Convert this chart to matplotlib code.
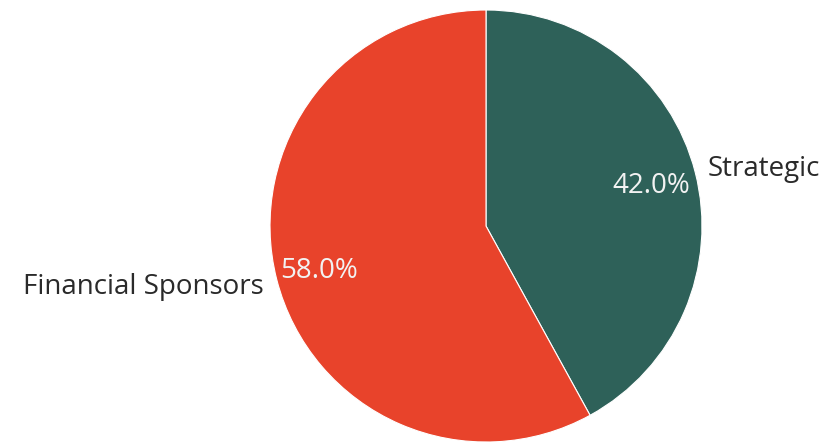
import matplotlib
matplotlib.use('Agg')
import matplotlib.pyplot as plt
import numpy as np

labels = ['Strategic', 'Financial Sponsors']
shares = [42.0, 58.0]
colors = ['#2e6159', '#e8432b']
pct_dist = [0.79, 0.80]
label_shift = [0.0, -0.02]

plt.rcParams['font.family'] = ['Open Sans', 'DejaVu Sans']

fig = plt.figure(figsize=(8.33, 4.43), dpi=100)
ax = fig.add_axes([270 / 833, 1 / 443, 432 / 833, 432 / 443])

wedges, texts, autotexts = ax.pie(
    shares, labels=labels, colors=colors, startangle=90, counterclock=False,
    autopct='%1.1f%%', pctdistance=0.79, labeldistance=1.06,
    textprops={'fontsize': 20, 'color': '#2a2a2a'},
    wedgeprops={'linewidth': 0.8, 'edgecolor': 'white'})

# put each percentage along its wedge's middle angle
for w, t, d in zip(wedges, autotexts, pct_dist):
    mid = np.deg2rad((w.theta1 + w.theta2) / 2)
    t.set_position((d * np.cos(mid), d * np.sin(mid) - 0.01))
    t.set_color('#f2f2f2')
    t.set_fontsize(20)

for t, s in zip(texts, label_shift):
    x, y = t.get_position()
    t.set_va('center')
    t.set_position((x, y + s))

for t in texts + autotexts:
    t.set_clip_on(False)

ax.set_xlim(-1, 1)
ax.set_ylim(-1, 1)
ax.set_aspect('equal')
ax.axis('off')

fig.savefig('out.png', dpi=100)
